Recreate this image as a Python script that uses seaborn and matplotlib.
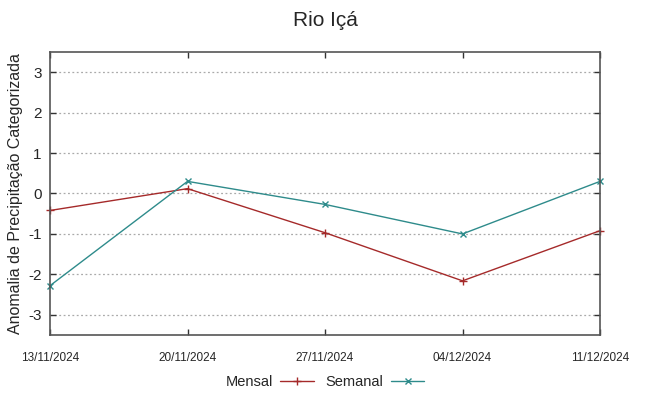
import matplotlib.pyplot as plt
import numpy as np
import pandas as pd
import seaborn as sns

datas = ['13/11/2024', '20/11/2024', '27/11/2024', '04/12/2024', '11/12/2024']
mensal = [-0.42, 0.12, -0.97, -2.16, -0.92]
semanal = [-2.28, 0.30, -0.27, -1.00, 0.30]
yticks = [-3, -2, -1, 0, 1, 2, 3]

sns.set_style('ticks')
plt.rcParams['font.family'] = ['Liberation Sans', 'DejaVu Sans']

dates = pd.to_datetime(datas, format='%d/%m/%Y')
df = pd.DataFrame({'data': dates, 'Mensal': mensal, 'Semanal': semanal})

fig = plt.figure(figsize=(6.49, 3.95), dpi=100)
ax = fig.add_axes([50 / 649, 1 - 335 / 395, 550 / 649, 283 / 395])

sns.lineplot(data=df, x='data', y='Mensal', ax=ax, color='#a52a2a',
             marker='+', markersize=6, markeredgewidth=1.0,
             markeredgecolor='#a52a2a', linewidth=1.0,
             label='Mensal', clip_on=False)
sns.lineplot(data=df, x='data', y='Semanal', ax=ax, color='#2e8b8b',
             marker='x', markersize=5, markeredgewidth=1.0,
             markeredgecolor='#2e8b8b', linewidth=1.0,
             label='Semanal', clip_on=False)

ax.set_xlim(dates[0], dates[-1])
ax.set_ylim(-3.5, 3.5)
ax.set_xticks(dates)
ax.set_xticklabels(datas, fontsize=8.5)
ax.tick_params(direction='in', top=True, right=True, length=4, width=1,
               color='#333333')
ax.tick_params(axis='x', pad=12)
ax.set_yticks(yticks)
ax.set_yticklabels([str(v) for v in yticks], fontsize=11)
ax.tick_params(axis='y', pad=6)
ax.yaxis.grid(True, linestyle=(0, (1.5, 2)), color='#aaaaaa', linewidth=0.9)
for s in ax.spines.values():
    s.set_color('#555555')
    s.set_linewidth(1.2)

ax.set_xlabel('')
ax.set_ylabel('Anomalia de Precipitação Categorizada', fontsize=11.5, labelpad=4)
ax.set_title('Rio Içá', fontsize=15, pad=19)

ax.legend(loc='center', bbox_to_anchor=(0.5, -0.165), ncol=2,
          frameon=False, markerfirst=False, fontsize=10.5, handlelength=2.3,
          columnspacing=0.8, handletextpad=0.5)

fig.savefig('out.png', dpi=100)
